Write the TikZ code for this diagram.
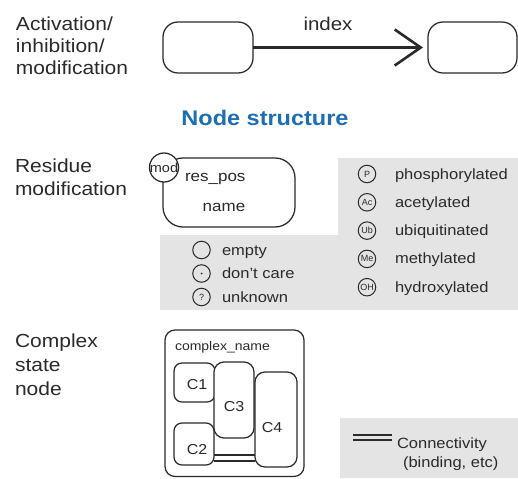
\documentclass[tikz,border=0pt]{standalone}
\usepackage{fontspec}
\setmainfont{Liberation Sans}
\usetikzlibrary{arrows.meta}
\definecolor{ink}{HTML}{2A2A2A}
\definecolor{panel}{HTML}{E4E4E4}
\definecolor{headblue}{RGB}{30,110,180}
% text at a given size, slightly condensed in height
\newcommand\sizedtext[2]{{\fontsize{#1}{#1}\selectfont\scalebox{1}[0.9]{#2}}}

\begin{document}
\begin{tikzpicture}[x=1pt,y=-1pt,
  every node/.style={inner sep=0pt, outer sep=0pt, text=ink},
  lbl/.style={anchor=base west},
  rbox/.style={rectangle, draw=ink, line width=1.25pt, fill=white, rounded corners=#1},
  sym/.style={circle, draw=ink, line width=1pt, minimum size=17.5pt,
              font=\fontsize{9}{9}\selectfont},
  bond/.style={draw=ink, line width=1.5pt},
  link/.style={draw=ink, line width=2.6pt, -{Straight Barb[length=26pt,width=36pt]}, shorten >=5pt}
]
\useasboundingbox (0,0) rectangle (518,478);

% grey legend panels
\fill[panel] (338,158) -- (518,158) -- (518,310) -- (160,310) -- (160,235) -- (338,235) -- cycle;
\fill[panel] (340,418) rectangle (518,478);

% ---- activation / inhibition / modification ----
\node[lbl] (actA) at (16,31) {\sizedtext{21}{Activation/}};
\node[lbl] (actB) at (16,53) {\sizedtext{21}{inhibition/}};
\node[lbl] (actC) at (16,75) {\sizedtext{21}{modification}};

\node[rbox=15pt, minimum width=90pt, minimum height=51pt] (src) at (208,47.5) {};
\node[rbox=15pt, minimum width=89pt, minimum height=51pt] (dst) at (472.5,47.5) {};
\draw[link] (src.east) -- (dst.west);
\node[anchor=base] (idx) at (328,31) {\sizedtext{20.5}{index}};

\node[anchor=base, text=headblue] (heading) at (265,125.5) {\sizedtext{23.5}{\bfseries Node structure}};

% ---- residue modification ----
\node[lbl] (resA) at (15,172) {\sizedtext{21}{Residue}};
\node[lbl] (resB) at (15,195) {\sizedtext{21}{modification}};

\node[rbox=20pt, minimum width=132pt, minimum height=69pt] (res) at (229,192.5) {};
\node[circle, draw=ink, line width=1.25pt, fill=white, minimum size=29pt] (mod) at (164,167.5) {};
\node (modtxt) at (164,168) {\sizedtext{14.5}{mod}};
\node[lbl] (respos) at (185,182) {\sizedtext{17}{res\_pos}};
\node[anchor=base] (resname) at (224,211) {\sizedtext{17}{name}};

% residue states
\node[sym] (sEmpty) at (201.5,250) {};
\node[sym] (sAny) at (201.5,273.5) {};
\fill[ink] (sAny.center) circle (1pt);
\node[sym] (sUnk) at (201.5,297) {?};
\node[lbl] (tEmpty) at (222,255) {\sizedtext{16.5}{empty}};
\node[lbl] (tAny) at (222,278.5) {\sizedtext{16.5}{don't care}};
\node[lbl] (tUnk) at (222,302) {\sizedtext{16.5}{unknown}};

% modification types
\node[sym] (mP) at (367,174) {P};
\node[sym] (mAc) at (367,202.3) {Ac};
\node[sym] (mUb) at (367,230.6) {Ub};
\node[sym] (mMe) at (367,258.9) {Me};
\node[sym] (mOH) at (367,287.2) {OH};
\node[lbl] (tP) at (395,179) {\sizedtext{16.5}{phosphorylated}};
\node[lbl] (tAc) at (395,207.3) {\sizedtext{16.5}{acetylated}};
\node[lbl] (tUb) at (395,235.6) {\sizedtext{16.5}{ubiquitinated}};
\node[lbl] (tMe) at (395,263.9) {\sizedtext{16.5}{methylated}};
\node[lbl] (tOH) at (395,292.2) {\sizedtext{16.5}{hydroxylated}};

% ---- complex state node ----
\node[lbl] (cxA) at (15,347) {\sizedtext{21}{Complex}};
\node[lbl] (cxB) at (15,371) {\sizedtext{21}{state}};
\node[lbl] (cxC) at (15,395) {\sizedtext{21}{node}};

\node[rbox=10pt, minimum width=139pt, minimum height=146.5pt] (cx) at (234.5,403.25) {};
\node[lbl] (cxname) at (175,350) {\sizedtext{14}{complex\_name}};

\node[rbox=8pt, minimum width=41pt, minimum height=39pt] (c1) at (194.5,382.5) {};
\node[rbox=8pt, minimum width=40pt, minimum height=42pt] (c2) at (194,444) {};
\node[rbox=10pt, minimum width=40pt, minimum height=76pt] (c3) at (234,400) {};
\node[rbox=10pt, minimum width=42pt, minimum height=95pt] (c4) at (276,419.5) {};
\node (c1t) at (197,385) {\sizedtext{16}{C1}};
\node (c2t) at (197,450) {\sizedtext{16}{C2}};
\node (c3t) at (234,407) {\sizedtext{16}{C3}};
\node (c4t) at (272,428) {\sizedtext{16}{C4}};

% binding between C2 and C4
\coordinate (bondA) at (0,455);
\coordinate (bondB) at (0,461);
\draw[bond] (c2.east |- bondA) -- (c4.west |- bondA);
\draw[bond] (c2.east |- bondB) -- (c4.west |- bondB);

% connectivity legend
\coordinate (kA1) at (353,435);
\coordinate (kA2) at (392,435);
\coordinate (kB1) at (353,440);
\coordinate (kB2) at (392,440);
\draw[bond] (kA1) -- (kA2);
\draw[bond] (kB1) -- (kB2);
\node[lbl] (conn) at (397,448) {\sizedtext{16.5}{Connectivity}};
\node[lbl] (connb) at (403,467) {\sizedtext{16.5}{(binding, etc)}};
\end{tikzpicture}
\end{document}
